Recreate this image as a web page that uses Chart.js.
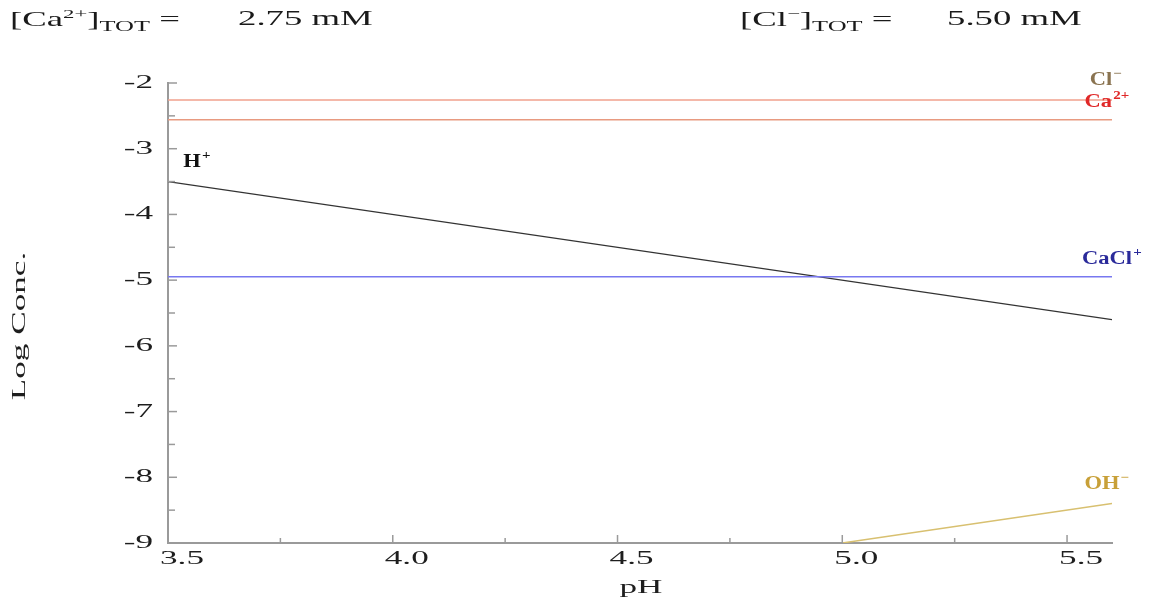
<!DOCTYPE html>
<html>
<head>
<meta charset="utf-8">
<title>Log Conc. vs pH</title>
<script src="https://cdn.jsdelivr.net/npm/chart.js@4.4.1/dist/chart.umd.min.js"></script>
<style>
  html, body { margin: 0; padding: 0; background: #fff; }
  #wrap { position: relative; width: 1175px; height: 599px; font-family: "Liberation Serif", "DejaVu Serif", serif; color: #1a1a1a; }
  #plot { position: absolute; left: 0; top: 0; }
  .hdr { position: absolute; top: 6px; font-size: 21px; white-space: nowrap; transform: scaleX(1.75); transform-origin: 0 0; }
  .hdr sup { font-size: 13px; }
  .hdr sub { font-size: 15px; }
</style>
</head>
<body>
<div id="wrap">
  <canvas id="plot" width="1175" height="599"></canvas>
  <div class="hdr" style="left:10px">[Ca<sup>2+</sup>]<sub>TOT</sub> =</div>
  <div class="hdr" style="left:238px">2.75 mM</div>
  <div class="hdr" style="left:740px">[Cl<sup>−</sup>]<sub>TOT</sub> =</div>
  <div class="hdr" style="left:947px">5.50 mM</div>
</div>
<script>
// ==================== DATA ====================
const pHRange = [3.5, 5.6];
const clMinus = [-2.26, -2.26];
const caPlus2 = [-2.56, -2.56];
const caclPlus = [-4.95, -4.95];
const hPlus = [-3.5, -5.6];
const ohPH = [5.0, 5.6];
const ohMinus = [-9.0, -8.4];

const xTicks = [3.5, 4.0, 4.5, 5.0, 5.5];
const xMinorTicks = [3.75, 4.25, 4.75, 5.25];
const yTicks = [-2, -3, -4, -5, -6, -7, -8, -9];
const yMinorTicks = [-2.5, -3.5, -4.5, -5.5, -6.5, -7.5, -8.5];

const SERIF = '"Liberation Serif", "DejaVu Serif", serif';
const AXIS_FONT = '19px ' + SERIF;
const STRETCH = 1.85;   // the original lettering is drawn wide

function pts(xs, ys) {
    return xs.map((x, i) => ({ x: x, y: ys[i] }));
}

// text squeezed/stretched horizontally around an anchor point
function wideText(ctx, text, x, y, align, sx, angle) {
    ctx.save();
    ctx.translate(x, y);
    if (angle) ctx.rotate(angle);
    ctx.scale(sx, 1);
    ctx.textAlign = align;
    ctx.fillText(text, 0, 0);
    ctx.restore();
}

// ==================== PLUGINS ====================

// inward tick marks, tick labels and axis titles
const axisDecor = {
    id: 'axisDecor',
    afterDraw(chart) {
        const { ctx, chartArea, scales } = chart;
        ctx.save();
        ctx.strokeStyle = '#9a9a9a';
        ctx.lineWidth = 1.5;
        const tickX = (vals, len) => {
            vals.forEach(v => {
                const px = scales.x.getPixelForValue(v);
                ctx.beginPath();
                ctx.moveTo(px, chartArea.bottom);
                ctx.lineTo(px, chartArea.bottom - len);
                ctx.stroke();
            });
        };
        const tickY = (vals, len) => {
            vals.forEach(v => {
                const py = scales.y.getPixelForValue(v);
                ctx.beginPath();
                ctx.moveTo(chartArea.left, py);
                ctx.lineTo(chartArea.left + len, py);
                ctx.stroke();
            });
        };
        tickX(xTicks, 8);
        tickX(xMinorTicks, 5);
        tickY(yTicks, 9);
        tickY(yMinorTicks, 7);

        ctx.fillStyle = '#1e1e1e';
        ctx.font = AXIS_FONT;
        ctx.textBaseline = 'middle';
        xTicks.forEach(v => {
            const px = scales.x.getPixelForValue(v);
            wideText(ctx, v.toFixed(1), px + 14, chartArea.bottom + 16, 'center', STRETCH);
        });
        yTicks.forEach(v => {
            const py = scales.y.getPixelForValue(v);
            wideText(ctx, String(v), chartArea.left - 15, py, 'right', STRETCH);
        });

        // axis titles
        wideText(ctx, 'pH', (chartArea.left + chartArea.right) / 2 + 1, 588, 'center', STRETCH);
        wideText(ctx, 'Log Conc.', 20, 326, 'center', STRETCH, -Math.PI / 2);
        ctx.restore();
    }
};

// species labels, with superscript charges
function drawRich(ctx, base, sup, cx, cy, color) {
    const sx = 1.25;
    ctx.font = 'bold 18px ' + SERIF;
    const wb = ctx.measureText(base).width;
    ctx.font = 'bold 12px ' + SERIF;
    const ws = ctx.measureText(sup).width;
    ctx.save();
    ctx.translate(cx - (wb + ws + 1) * sx / 2, cy);
    ctx.scale(sx, 1);
    ctx.fillStyle = color;
    ctx.textAlign = 'left';
    ctx.textBaseline = 'alphabetic';
    ctx.font = 'bold 18px ' + SERIF;
    ctx.fillText(base, 0, 6);
    ctx.font = 'bold 12px ' + SERIF;
    ctx.fillText(sup, wb + 1, -2);
    ctx.restore();
}

const speciesLabels = {
    id: 'speciesLabels',
    afterDatasetsDraw(chart) {
        const { ctx } = chart;
        ctx.save();
        chart.data.datasets.forEach((ds, i) => {
            const lab = ds.tag;
            if (!lab) return;
            const meta = chart.getDatasetMeta(i);
            const p = meta.data[lab.at === 'start' ? 0 : meta.data.length - 1];
            drawRich(ctx, lab.base, lab.sup, p.x + lab.dx, p.y + lab.dy, lab.color);
        });
        ctx.restore();
    }
};

// ==================== CHART ====================
const ctx = document.getElementById('plot').getContext('2d');

new Chart(ctx, {
    type: 'line',
    data: {
        datasets: [
            {
                label: 'Cl-',
                data: pts(pHRange, clMinus),
                borderColor: '#f0a08c',
                borderWidth: 1.5,
                tag: { base: 'Cl', sup: '−', dx: -6, dy: -21, color: '#8a7350', at: 'end' }
            },
            {
                label: 'Ca2+',
                data: pts(pHRange, caPlus2),
                borderColor: '#e89a80',
                borderWidth: 1.5,
                tag: { base: 'Ca', sup: '2+', dx: -5, dy: -19, color: '#e02828', at: 'end' }
            },
            {
                label: 'CaCl+',
                data: pts(pHRange, caclPlus),
                borderColor: '#7878f0',
                borderWidth: 1.5,
                tag: { base: 'CaCl', sup: '+', dx: 0, dy: -19, color: '#2a2a9a', at: 'end' }
            },
            {
                label: 'H+',
                data: pts(pHRange, hPlus),
                borderColor: '#333333',
                borderWidth: 1.2,
                tag: { base: 'H', sup: '+', dx: 29, dy: -21, color: '#111111', at: 'start' }
            },
            {
                label: 'OH-',
                data: pts(ohPH, ohMinus),
                borderColor: '#d8c070',
                borderWidth: 1.5,
                tag: { base: 'OH', sup: '−', dx: -5, dy: -21, color: '#c8a038', at: 'end' }
            }
        ]
    },
    options: {
        responsive: false,
        animation: false,
        elements: { point: { radius: 0 }, line: { tension: 0 } },
        layout: { padding: { left: 0, top: 83, right: 63, bottom: 0 } },
        plugins: {
            legend: { display: false },
            tooltip: { enabled: false }
        },
        scales: {
            x: {
                type: 'linear',
                min: 3.5,
                max: 5.6,
                afterBuildTicks: s => { s.ticks = xTicks.map(v => ({ value: v })); },
                afterFit: s => { s.height = 56; },
                grid: { display: false, drawTicks: false },
                border: { display: true, color: '#9a9a9a', width: 2 },
                ticks: { display: false }
            },
            y: {
                type: 'linear',
                min: -9,
                max: -2,
                afterBuildTicks: s => { s.ticks = yTicks.map(v => ({ value: v })); },
                afterFit: s => { s.width = 168; },
                grid: { display: false, drawTicks: false },
                border: { display: true, color: '#9a9a9a', width: 2 },
                ticks: { display: false }
            }
        }
    },
    plugins: [axisDecor, speciesLabels]
});
</script>
</body>
</html>
